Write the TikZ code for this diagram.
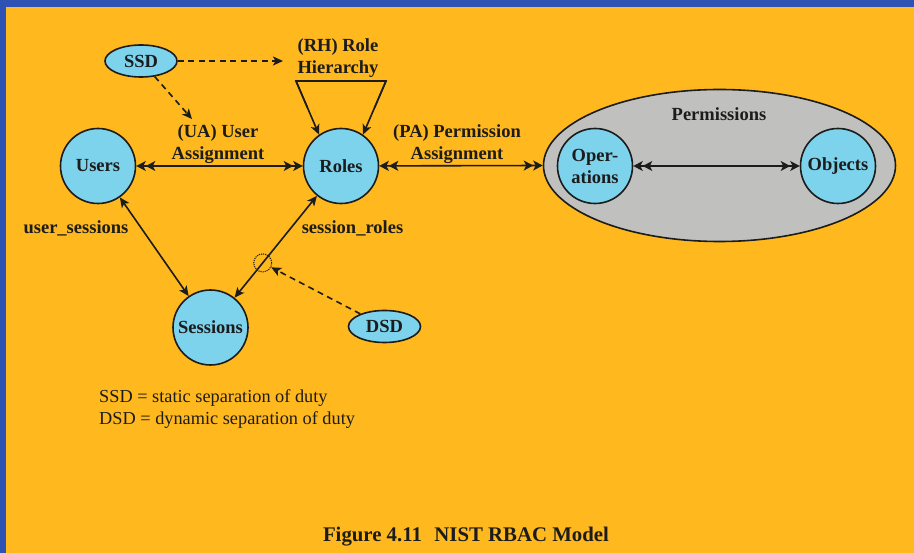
\documentclass[tikz,border=0pt]{standalone}
\usepackage{fontspec}
\setmainfont{Liberation Serif}
\usetikzlibrary{arrows.meta,shapes.geometric,calc}

\definecolor{bgorange}{RGB}{255,184,30}
\definecolor{frameblue}{RGB}{46,82,180}
\definecolor{nodeblue}{RGB}{125,210,236}
\definecolor{permgray}{RGB}{192,193,190}
\definecolor{ink}{RGB}{28,28,28}

\tikzset{
  dbltip/.tip={Stealth[length=9.5pt,width=10pt,inset=2.5pt]Stealth[length=9.5pt,width=10pt,inset=2.5pt]},
  sgltip/.tip={Stealth[length=10pt,width=9pt,inset=2.5pt]},
  labelfont/.style={font=\bfseries\fontsize{18.5}{22}\selectfont, text=ink},
  entity/.style={circle, draw=ink, line width=1.6pt, fill=nodeblue,
    minimum size=75pt, inner sep=0pt, align=center, labelfont},
  sepnode/.style={ellipse, draw=ink, line width=1.6pt, fill=nodeblue,
    minimum width=72pt, minimum height=32pt, inner sep=0pt, labelfont},
  lbl/.style={labelfont, align=center, inner sep=0pt},
  link/.style={draw=ink, line width=1.6pt},
  assign/.style={link, dbltip-dbltip},
  sessionlink/.style={link, sgltip-sgltip},
  constraint/.style={link, dash pattern=on 6pt off 4.5pt, -sgltip}
}

\begin{document}
\begin{tikzpicture}[x=1pt, y=-1pt]
  % frame and background
  \fill[frameblue] (0,0) rectangle (914,553);
  \fill[bgorange] (6,7) rectangle (914,553);
  \useasboundingbox (0,0) rectangle (914,553);

  % permission container
  \node[ellipse, draw=ink, line width=1.6pt, fill=permgray,
        minimum width=352pt, minimum height=152pt, inner sep=0pt] (perm) at (719.5,165.5) {};
  \node[lbl, anchor=base] (permlbl) at (719,121) {Permissions};

  % main entities
  \node[entity] (users)    at (98,166)    {Users};
  \node[entity] (roles)    at (341,166)   {Roles};
  \node[entity] (sessions) at (210.5,327.5) {Sessions};
  \node[entity] (ops)      at (595,166)   {Oper-\\ations};
  \node[entity] (objs)     at (838,166)   {Objects};

  % separation-of-duty constraints
  \node[sepnode] (ssd) at (141,61)    {SSD};
  \node[sepnode] (dsd) at (384.5,326.5) {DSD};

  % relation labels
  \node[lbl] (rh)  at (338,58)  {(RH) Role\\Hierarchy};
  \node[lbl] (ua)  at (218,144) {(UA) User\\Assignment};
  \node[lbl] (pa)  at (457,144) {(PA) Permission\\Assignment};
  \node[lbl, anchor=base] (us) at (76,234)  {user\_sessions};
  \node[lbl, anchor=base] (sr) at (352.5,234) {session\_roles};

  % assignments
  \draw[assign] (users) -- (roles);
  \draw[assign] (roles) -- (perm.west);
  \draw[assign] (ops) -- (objs);

  % sessions
  \draw[sessionlink] (users) -- (sessions);
  \draw[sessionlink] (sessions) -- (roles);

  % role hierarchy bracket
  \coordinate (rhL) at (296,81);
  \coordinate (rhR) at (386,81);
  \draw[link, line join=miter] ($(rhL)!0.5!(roles.125)$) -- (rhL) -- (rhR) -- ($(rhR)!0.5!(roles.55)$);
  \draw[link, -sgltip] (rhL) -- (roles.125);
  \draw[link, -sgltip] (rhR) -- (roles.55);

  % SSD constraints
  \coordinate (rhtip) at (283,61);
  \coordinate (uatip) at (192,119);
  \draw[constraint] (ssd.east) -- (rhtip);
  \draw[constraint] (ssd) -- (uatip);

  % DSD constraint on session_roles
  \node[circle, draw=ink, densely dotted, line width=1.1pt, minimum size=18pt, inner sep=0pt]
        (dsdmark) at ($(sessions)!0.4!(roles)$) {};
  \draw[constraint] (dsd) -- (dsdmark);

  % legend
  \node[anchor=base west, inner sep=0pt, text=ink, font=\fontsize{18.3}{22}\selectfont]
        (leg1) at (99,403) {SSD = static separation of duty};
  \node[anchor=base west, inner sep=0pt, text=ink, font=\fontsize{18.3}{22}\selectfont]
        (leg2) at (99,425) {DSD = dynamic separation of duty};

  % caption
  \node[anchor=base, inner sep=0pt, text=ink, font=\bfseries\fontsize{20.8}{24}\selectfont]
        (caption) at (466,541) {Figure 4.11\hspace{0.6em}NIST RBAC Model};
\end{tikzpicture}
\end{document}
